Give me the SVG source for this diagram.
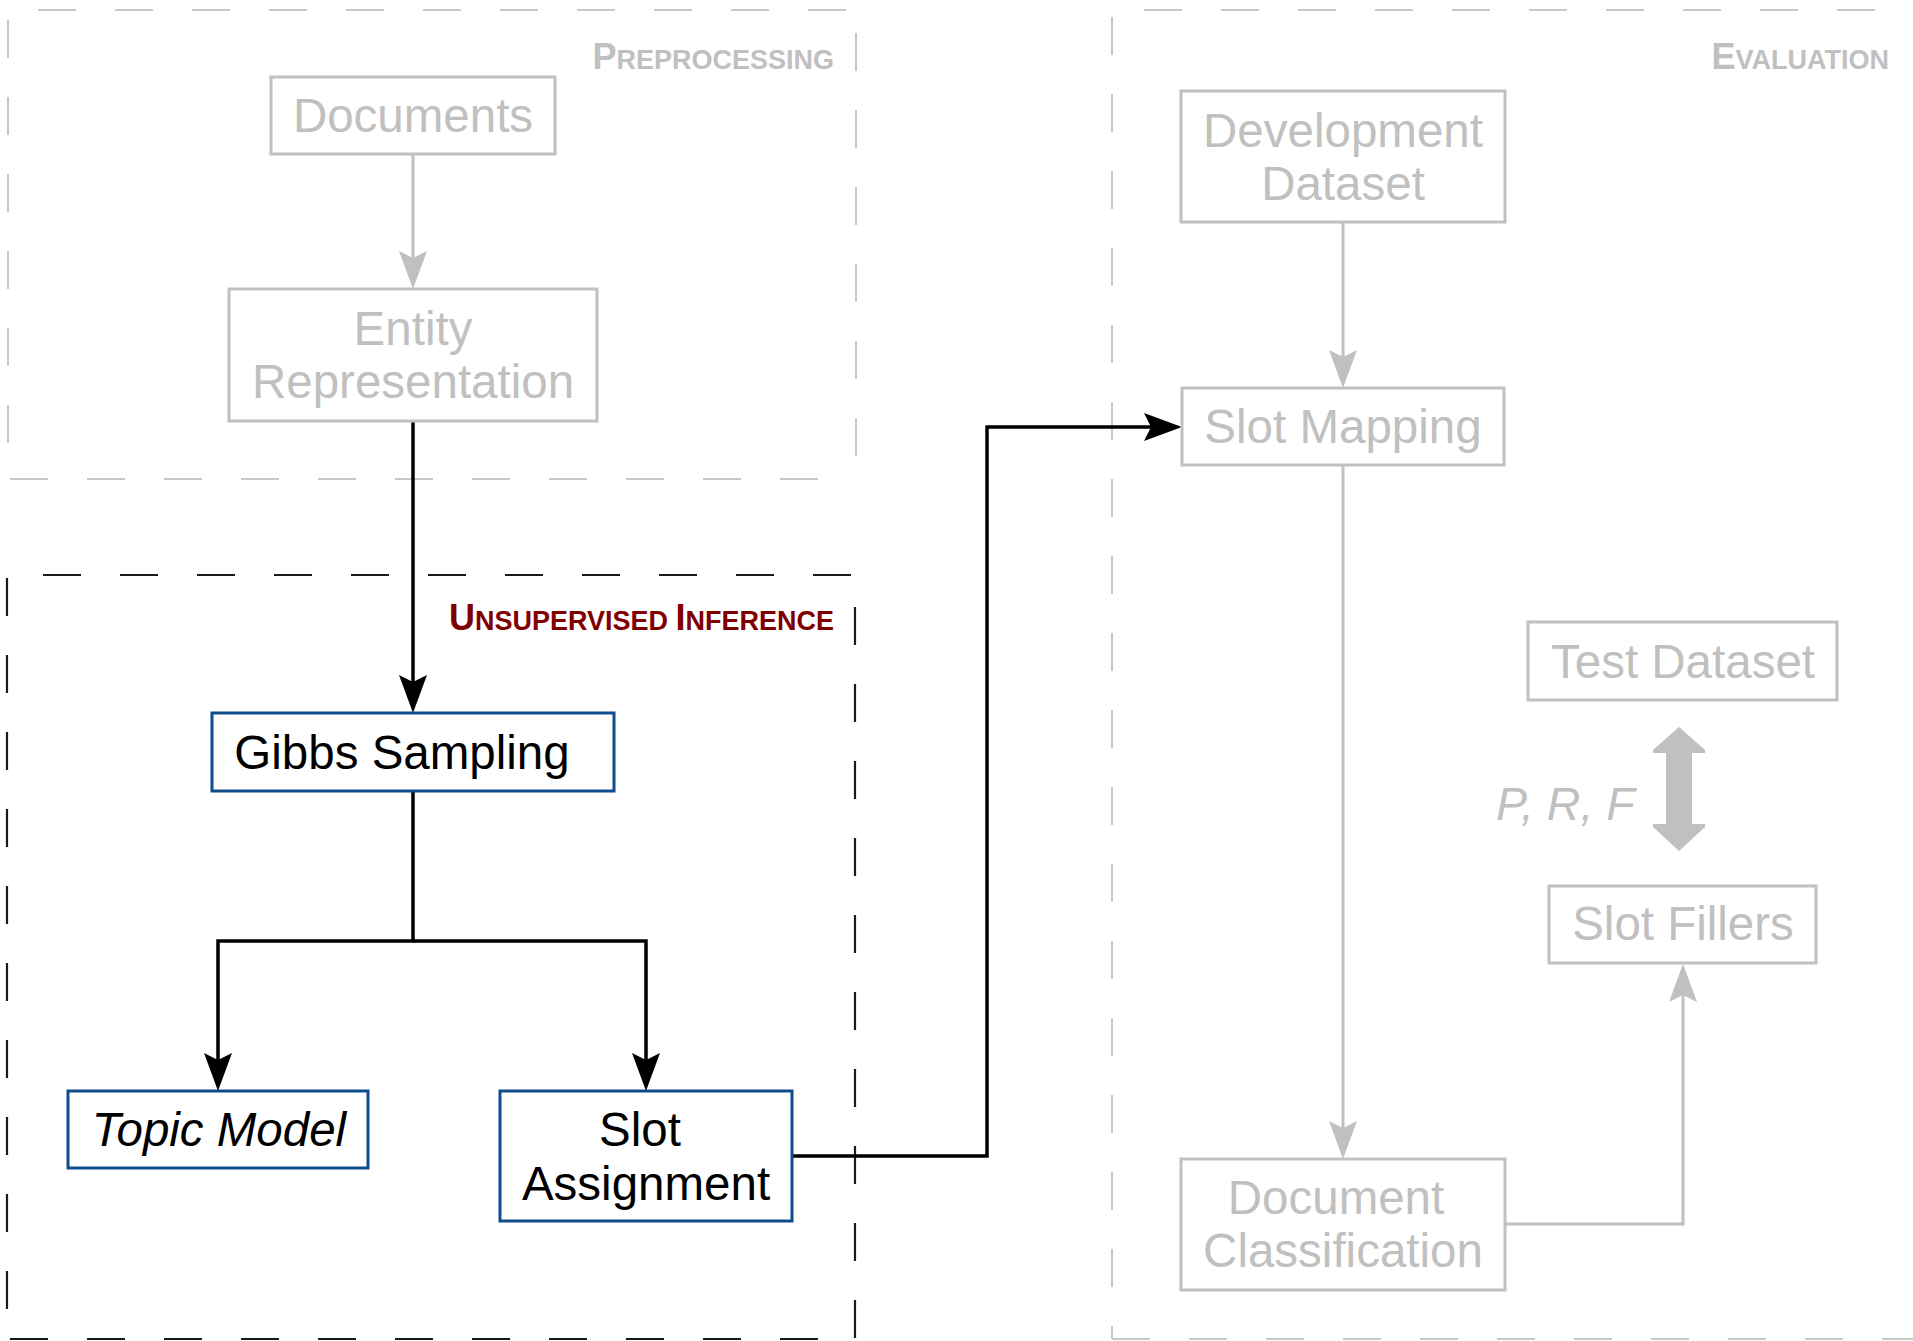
<svg xmlns="http://www.w3.org/2000/svg" width="1913" height="1341" viewBox="0 0 1913 1341">
<style>
  text { font-family: "Liberation Sans", Arial, sans-serif; }
  .lbl { font-size: 47.5px; text-anchor: middle; }
  .gray-t { fill: #c0c0c0; }
  .black-t { fill: #000000; }
  .gbox { fill: #ffffff; stroke: #c0c0c0; stroke-width: 3; }
  .bbox { fill: #ffffff; stroke: #0e4c8e; stroke-width: 3; }
  .gline { fill: none; stroke: #c0c0c0; stroke-width: 3; }
  .bline { fill: none; stroke: #000000; stroke-width: 3.5; }
  .gdash { fill: none; stroke: #c8c8c8; stroke-width: 2; stroke-dasharray: 38 39; }
  .bdash { fill: none; stroke: #1a1a1a; stroke-width: 2.2; stroke-dasharray: 38 39; }
  .sc { font-weight: bold; text-anchor: end; }
  .big { font-size: 36px; }
  .small { font-size: 27px; }
</style>
<defs>
  <marker id="arrB" viewBox="0 0 38 28" refX="8" refY="14" markerWidth="38" markerHeight="28" markerUnits="userSpaceOnUse" orient="auto">
    <path d="M0,0 L38,14 L0,28 L7,14 Z" fill="#000000"/>
  </marker>
  <marker id="arrG" viewBox="0 0 38 28" refX="8" refY="14" markerWidth="38" markerHeight="28" markerUnits="userSpaceOnUse" orient="auto">
    <path d="M0,0 L38,14 L0,28 L7,14 Z" fill="#c0c0c0"/>
  </marker>
</defs>

<g id="regions">
  <g id="region-preprocessing">
    <line class="gdash" x1="38" y1="10" x2="855" y2="10"/>
    <line class="gdash" x1="8" y1="20" x2="8" y2="479"/>
    <line class="gdash" x1="856" y1="33" x2="856" y2="479"/>
    <line class="gdash" x1="10" y1="479" x2="856" y2="479"/>
    <text class="sc gray-t" x="834" y="69"><tspan class="big">P</tspan><tspan class="small">REPROCESSING</tspan></text>
  </g>
  <g id="region-inference">
    <line class="bdash" x1="43" y1="575" x2="852" y2="575"/>
    <line class="bdash" x1="7" y1="578" x2="7" y2="1339"/>
    <line class="bdash" x1="855" y1="607" x2="855" y2="1339"/>
    <line class="bdash" x1="10" y1="1339" x2="855" y2="1339"/>
    <text class="sc" fill="#800000" x="834" y="630"><tspan class="big">U</tspan><tspan class="small">NSUPERVISED </tspan><tspan class="big">I</tspan><tspan class="small">NFERENCE</tspan></text>
  </g>
  <g id="region-evaluation">
    <line class="gdash" x1="1144" y1="10" x2="1913" y2="10"/>
    <line class="gdash" x1="1112" y1="17" x2="1112" y2="1339"/>
    <line class="gdash" x1="1112" y1="1339" x2="1913" y2="1339"/>
    <text class="sc gray-t" x="1889" y="69"><tspan class="big">E</tspan><tspan class="small">VALUATION</tspan></text>
  </g>
</g>

<g id="connectors">
  <path class="gline" d="M413 154 V259" marker-end="url(#arrG)"/>
  <path class="bline" d="M413 421 V683" marker-end="url(#arrB)"/>
  <path class="bline" d="M413 791 V941 H218 V1061" marker-end="url(#arrB)"/>
  <path class="bline" d="M413 941 H646 V1061" marker-end="url(#arrB)"/>
  <path class="bline" d="M792 1156 H987 V427 H1152" marker-end="url(#arrB)"/>
  <path class="gline" d="M1343 222 V358" marker-end="url(#arrG)"/>
  <path class="gline" d="M1343 465 V1129" marker-end="url(#arrG)"/>
  <path class="gline" d="M1505 1224 H1683 V994" marker-end="url(#arrG)"/>
  <g id="prf-arrow">
    <polygon fill="#c0c0c0" points="1679,727 1705,750 1705,753 1692,753 1692,824 1705,824 1705,827 1679,851 1653,827 1653,824 1666,824 1666,753 1653,753 1653,750"/>
    <text class="gray-t" x="1496" y="820" font-size="46.5" font-style="italic">P, R, F</text>
  </g>
</g>

<g id="node-documents">
  <rect class="gbox" x="271" y="77" width="284" height="77"/>
  <text class="lbl gray-t" x="413" y="132">Documents</text>
</g>
<g id="node-entity-representation">
  <rect class="gbox" x="229" y="289" width="368" height="132"/>
  <text class="lbl gray-t" x="413" y="345">Entity</text>
  <text class="lbl gray-t" x="413" y="398">Representation</text>
</g>
<g id="node-gibbs-sampling">
  <rect class="bbox" x="212" y="713" width="402" height="78"/>
  <text class="lbl black-t" x="402" y="769">Gibbs Sampling</text>
</g>
<g id="node-topic-model">
  <rect class="bbox" x="68" y="1091" width="300" height="77"/>
  <text class="lbl black-t" x="219" y="1146" font-style="italic">Topic Model</text>
</g>
<g id="node-slot-assignment">
  <rect class="bbox" x="500" y="1091" width="292" height="130"/>
  <text class="lbl black-t" x="640" y="1146">Slot</text>
  <text class="lbl black-t" x="646" y="1200">Assignment</text>
</g>
<g id="node-development-dataset">
  <rect class="gbox" x="1181" y="91" width="324" height="131"/>
  <text class="lbl gray-t" x="1343" y="147">Development</text>
  <text class="lbl gray-t" x="1343" y="200">Dataset</text>
</g>
<g id="node-slot-mapping">
  <rect class="gbox" x="1182" y="388" width="322" height="77"/>
  <text class="lbl gray-t" x="1343" y="443">Slot Mapping</text>
</g>
<g id="node-test-dataset">
  <rect class="gbox" x="1528" y="622" width="309" height="78"/>
  <text class="lbl gray-t" x="1683" y="678">Test Dataset</text>
</g>
<g id="node-slot-fillers">
  <rect class="gbox" x="1549" y="886" width="267" height="77"/>
  <text class="lbl gray-t" x="1683" y="940">Slot Fillers</text>
</g>
<g id="node-document-classification">
  <rect class="gbox" x="1181" y="1159" width="324" height="131"/>
  <text class="lbl gray-t" x="1336" y="1214">Document</text>
  <text class="lbl gray-t" x="1343" y="1267">Classification</text>
</g>
</svg>
